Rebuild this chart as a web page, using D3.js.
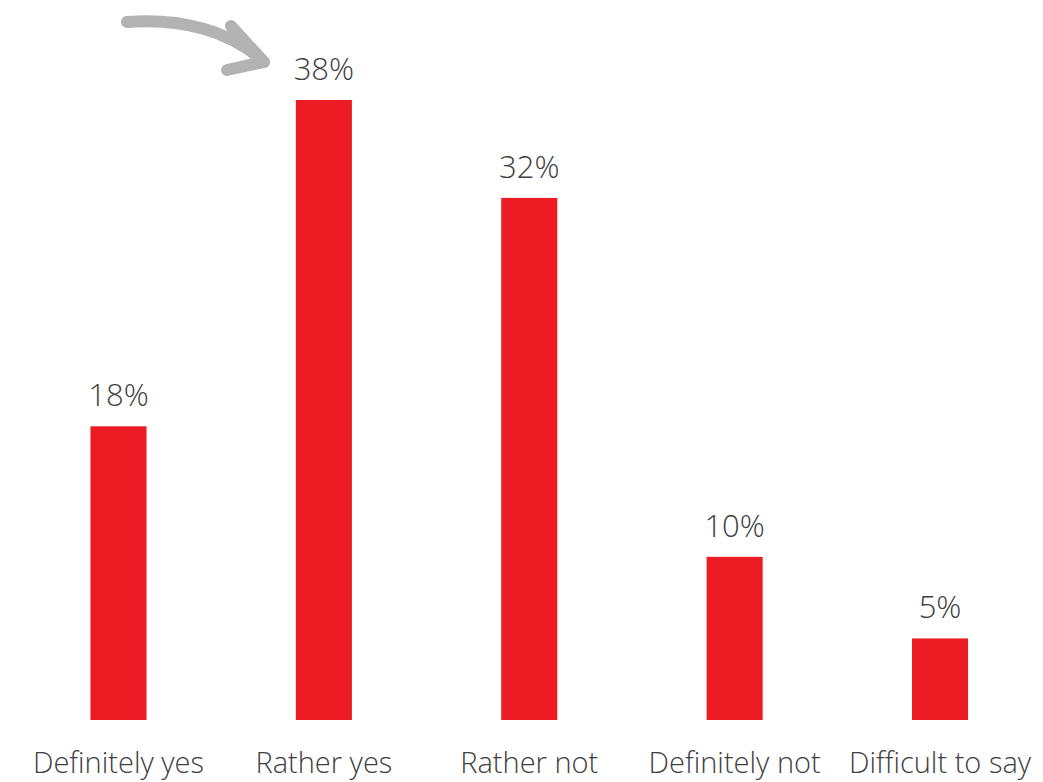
<!DOCTYPE html>
<html>
<head>
<meta charset="utf-8">
<script src="https://cdn.jsdelivr.net/npm/d3@7"></script>
<style>
  html, body { margin: 0; padding: 0; background: #fff; }
  svg { display: block; }
</style>
</head>
<body>
<svg id="chart" width="1043" height="782"></svg>
<script>
const categories = ["Definitely yes", "Rather yes", "Rather not", "Definitely not", "Difficult to say"];
const values = [18, 38, 32, 10, 5];
const valueLabels = ["18%", "38%", "32%", "10%", "5%"];

const W = 1043, H = 782;
const svg = d3.select("#chart");
const font = "'Segoe UI', 'Open Sans', sans-serif";

const x = d3.scaleBand()
  .domain(categories)
  .range([15.8, 1042.7])
  .paddingInner(0.727)
  .paddingOuter(0.3635);

const y = d3.scaleLinear()
  .domain([0, 38])
  .range([720, 100]);

svg.append("g").selectAll("rect")
  .data(categories)
  .join("rect")
  .attr("x", d => x(d))
  .attr("y", (d, i) => y(values[i]))
  .attr("width", x.bandwidth())
  .attr("height", (d, i) => y(0) - y(values[i]))
  .attr("fill", "#ED1C24");

svg.append("g").selectAll("text")
  .data(categories)
  .join("text")
  .attr("x", d => x(d) + x.bandwidth() / 2)
  .attr("y", (d, i) => y(values[i]) - 20)
  .attr("text-anchor", "middle")
  .attr("font-family", font)
  .attr("font-size", 31)
  .attr("font-weight", 300)
  .attr("fill", "#404040")
  .text((d, i) => valueLabels[i]);

const xAxis = d3.axisBottom(x).tickSize(0).tickPadding(0);
const gx = svg.append("g").attr("transform", "translate(0,773)").call(xAxis);
gx.select(".domain").remove();
gx.selectAll("text")
  .attr("font-family", font)
  .attr("font-size", 29)
  .attr("font-weight", 300)
  .attr("fill", "#404040")
  .attr("dy", "0");

// decorative curved arrow
const arrow = svg.append("g")
  .attr("fill", "none")
  .attr("stroke", "#B3B3B3")
  .attr("stroke-width", 12)
  .attr("stroke-linecap", "round")
  .attr("stroke-linejoin", "round");
arrow.append("path").attr("d", "M127,22 C180,18 230,30 264,62");
arrow.append("path").attr("d", "M231,26 L264,62 L227,70");
</script>
</body>
</html>
